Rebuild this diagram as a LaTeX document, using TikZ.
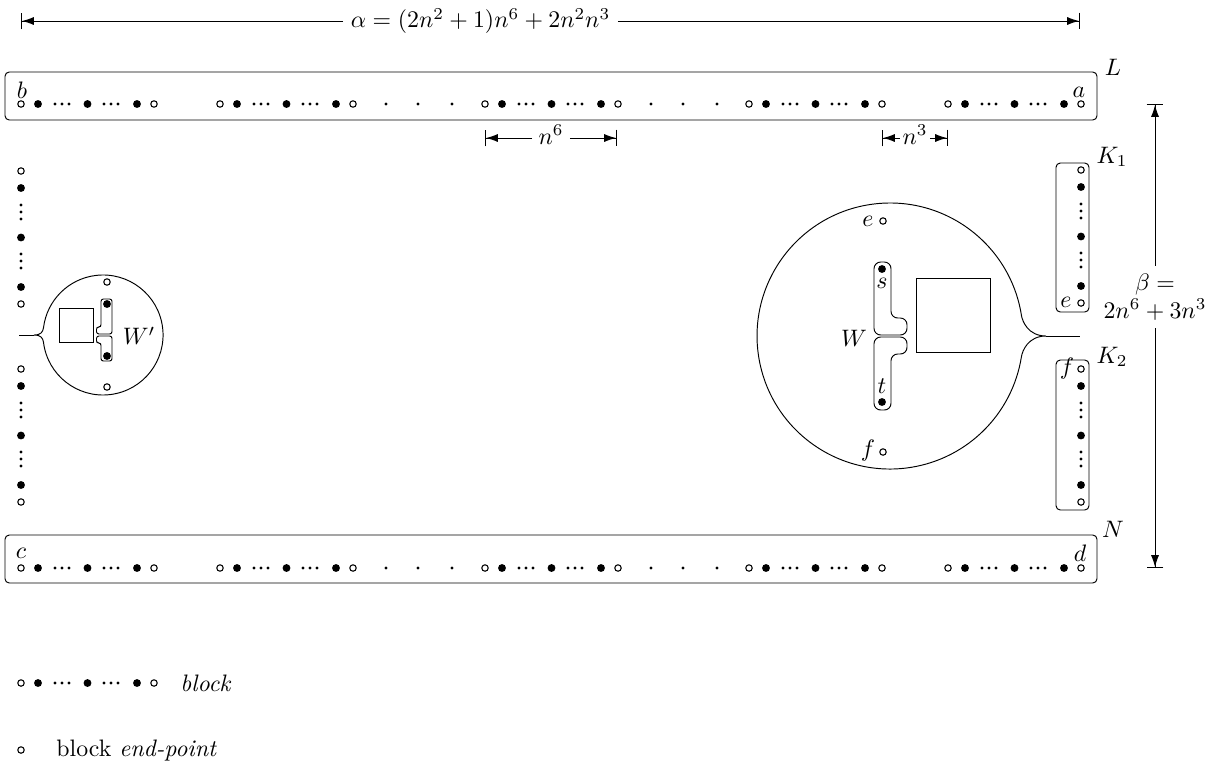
\documentclass[tikz,border=0pt]{standalone}
\usetikzlibrary{arrows.meta}

% one horizontal block: end-point, three big dots separated by ellipses, end-point
\newcommand\hblk[2]{%
  \foreach \d in {0,133} \draw[line width=0.45pt] ({#1+\d},#2) circle[radius=1.35pt];
  \foreach \d in {17,66.5,116} \fill ({#1+\d},#2) circle[radius=1.65pt];
  \foreach \d in {34,41,48,83,90,97} \fill ({#1+\d},#2) circle[radius=0.7pt];
}
% the same block set vertically
\newcommand\vblk[2]{%
  \foreach \d in {0,133} \draw[line width=0.45pt] (#1,{#2+\d}) circle[radius=1.35pt];
  \foreach \d in {17,66.5,116} \fill (#1,{#2+\d}) circle[radius=1.65pt];
  \foreach \d in {34,41,48,83,90,97} \fill (#1,{#2+\d}) circle[radius=0.7pt];
}

\begin{document}
\begin{tikzpicture}[x=0.42pt,y=-0.42pt,line width=0.4pt,
  lbl/.style={inner sep=0pt},
  dimtip/.style={-{Latex[length=5pt,width=3.4pt]Bar[width=7pt]}},
  box/.style={draw,rounded corners=1.8pt},
  tiny/.style={radius=0.7pt},
  endpt/.style={draw,line width=0.45pt}]
\useasboundingbox (0,0) rectangle (1227,765);

% ---- total width alpha
\coordinate (aL) at (21,21);
\coordinate (aR) at (1080,21);
\node[inner sep=3pt] (alab) at (480.5,21) {$\alpha=(2n^2+1)n^6+2n^2n^3$};
\draw[dimtip] (alab) -- (aL);
\draw[dimtip] (alab) -- (aR);

% ---- path L
\draw[box] (5,72) rectangle (1097,120);
\node[lbl] (Llab) at (1113,67) {$L$};
\foreach \s in {21,220,485,749,948} {\hblk{\s}{104}}
\foreach \x in {386,418,452,651,683,717} \fill (\x,104) circle[tiny];
\node[lbl,anchor=base] (blab) at (22,98) {$b$};
\node[lbl,anchor=base] (alab2) at (1079,97.5) {$a$};

% ---- widths n^6 and n^3
\coordinate (p6L) at (485,138);
\coordinate (p6R) at (617,138);
\node[inner sep=2.5pt,anchor=base] (n6) at (551,144) {$n^6$};
\draw[dimtip] (n6.west|-p6L) -- (p6L);
\draw[dimtip] (n6.east|-p6R) -- (p6R);
\coordinate (p3L) at (882,138);
\coordinate (p3R) at (948,138);
\node[inner sep=1pt,anchor=base] (n3) at (915,144) {$n^3$};
\draw[dimtip] (n3.west|-p3L) -- (p3L);
\draw[dimtip] (n3.east|-p3R) -- (p3R);

% ---- height beta
\coordinate (bT) at (1155,104);
\coordinate (bB) at (1155,568);
\node[inner sep=3pt,align=center] (blabel) at (1155,297) {$\beta=$\\$2n^6+3n^3$};
\draw[dimtip] (blabel) -- (bT);
\draw[dimtip] (blabel) -- (bB);

% ---- paths K1 and K2
\draw[box] (1056,163) rectangle (1089,312);
\vblk{1081}{170}
\node[lbl] (K1lab) at (1112,157) {$K_1$};
\node[lbl] (elab) at (1066,302) {$e$};
\draw[box] (1056,360) rectangle (1089,510);
\vblk{1081}{369}
\node[lbl] (K2lab) at (1112,357) {$K_2$};
\node[lbl] (flab) at (1067,369) {$f$};

% ---- left column
\vblk{21}{171}
\vblk{21}{369}

% ---- small bubble with W'
\draw (43.5,342.3) arc[start angle=187,end angle=533,radius=25.2pt]
  .. controls (42.8,332) and (41,335) .. (34,335)
  .. controls (41,335) and (42.8,338) .. (43.5,342.3);
\coordinate (Wptip) at (34,335);
\coordinate (Wpend) at (19,335);
\draw (Wptip) -- (Wpend);
\draw (59,308) rectangle (93,342);
\draw[rounded corners=1pt] (112,334) -- (112,299) -- (101,299) -- (101,327) -- (96.5,327) -- (96.5,334) -- cycle;
\draw[rounded corners=1pt] (112,336) -- (112,361) -- (101,361) -- (101,343) -- (96.5,343) -- (96.5,336) -- cycle;
\fill (107,304) circle[radius=1.65pt];
\fill (107,356) circle[radius=1.65pt];
\draw[endpt] (107,282) circle[radius=1.35pt];
\draw[endpt] (107,387) circle[radius=1.35pt];
\node[lbl] (Wplab) at (139,336) {$W'$};

% ---- large bubble with W
\draw (1021.4,315.2) arc[start angle=9,end angle=351,radius=55.86pt]
  .. controls (1022.3,350.9) and (1028,336) .. (1046,336)
  .. controls (1028,336) and (1022.3,321.1) .. (1021.4,315.2);
\coordinate (Wtip) at (1046,336);
\coordinate (Wend) at (1080,336);
\draw (Wtip) -- (Wend);
\draw (916,278) rectangle (990,352);
\draw[rounded corners=2.8pt] (874,335) -- (874,262) -- (891,262) -- (891,318) -- (907,318) -- (907,335) -- cycle;
\draw[rounded corners=2.8pt] (874,337) -- (874,410) -- (891,410) -- (891,354) -- (907,354) -- (907,337) -- cycle;
\fill (882,269) circle[radius=1.65pt];
\fill (882,402) circle[radius=1.65pt];
\node[lbl] (slab) at (882,283) {$s$};
\node[lbl] (tlab) at (882,386) {$t$};
\node[lbl] (Wlab) at (854,338) {$W$};
\draw[endpt] (883,221) circle[radius=1.35pt];
\draw[endpt] (883,452) circle[radius=1.35pt];
\node[lbl] (e2lab) at (868,221) {$e$};
\node[lbl] (f2lab) at (868,451) {$f$};

% ---- path N
\draw[box] (5,535) rectangle (1097,583);
\node[lbl] (Nlab) at (1113,529) {$N$};
\foreach \s in {21,220,485,749,948} {\hblk{\s}{568}}
\foreach \x in {386,418,452,651,683,717} \fill (\x,568) circle[tiny];
\node[lbl,anchor=base] (clab) at (21,558) {$c$};
\node[lbl,anchor=base] (dlab) at (1080,561) {$d$};

% ---- legend
\hblk{21}{683}
\node[lbl,anchor=base west] (legblock) at (180,691) {\textit{block}};
\draw[endpt] (21,750) circle[radius=1.35pt];
\node[lbl,anchor=base west] (legend) at (56,756) {block \textit{end-point}};
\end{tikzpicture}
\end{document}
